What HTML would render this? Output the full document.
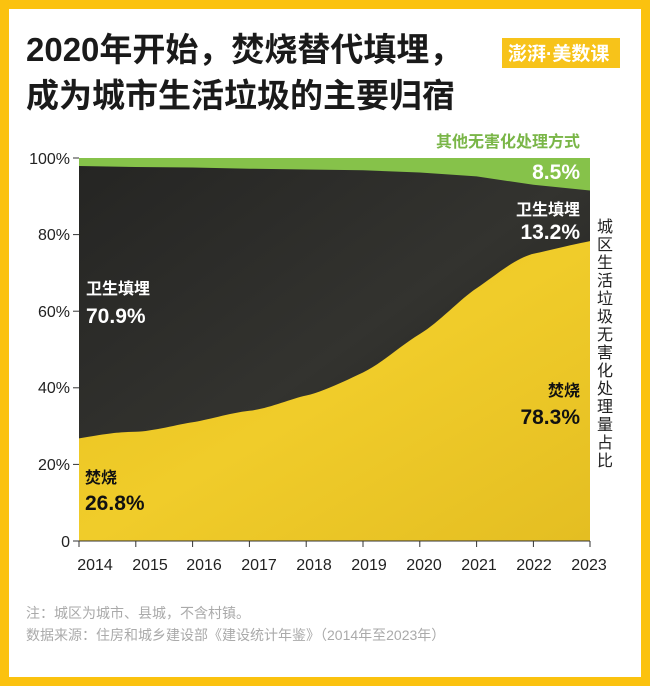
<!DOCTYPE html>
<html><head><meta charset="utf-8"><style>
body{margin:0;width:650px;height:686px;background:#fbc20f;font-family:"Liberation Sans","Noto Sans CJK SC",sans-serif;overflow:hidden}
.card{position:absolute;left:9px;top:9px;width:632px;height:668px;background:#fff}
</style></head><body>
<div class="card"></div>
<svg width="650" height="686" style="position:absolute;left:0;top:0" font-family="Liberation Sans, Noto Sans CJK SC, sans-serif">
<defs>
<linearGradient id="dk" x1="0" y1="0" x2="1" y2="1"><stop offset="0" stop-color="#252523"/><stop offset="0.5" stop-color="#33332f"/><stop offset="1" stop-color="#1a1a18"/></linearGradient>
<linearGradient id="yl" x1="0" y1="0" x2="1" y2="1"><stop offset="0" stop-color="#e8c11e"/><stop offset="0.5" stop-color="#f0cc2a"/><stop offset="1" stop-color="#e4be22"/></linearGradient>
</defs>
<text x="26" y="61" font-size="33" font-weight="bold" fill="#1a1a1a">2020年开始，焚烧替代填埋，</text>
<text x="26" y="107" font-size="33" font-weight="bold" fill="#1a1a1a">成为城市生活垃圾的主要归宿</text>
<rect x="502" y="38" width="118" height="30" fill="#f7c31a"/>
<text x="508" y="60" font-size="19" fill="#fff" font-weight="bold">澎湃·美数课</text>
<text x="580" y="147" font-size="16" font-weight="bold" fill="#7ab648" text-anchor="end">其他无害化处理方式</text>
<rect x="79" y="158" width="511" height="383" fill="#86c24a"/>
<path d="M79,166 L135.8,167 L192.6,167.5 L249.4,168.7 L306.2,169.5 L363,170.3 L419.8,172.5 L476.6,176.4 L533.4,184.8 L590,190.5 L590,541 L79,541 Z" fill="url(#dk)"/>
<path d="M79,438.4 C110,433 120,432 135.8,431.8 S180,424 192.6,422.3 S230,413 249.4,410.8 S290,399 306.2,395.5 S345,381 363,372.5 S400,346 419.8,334 S460,299 476.6,288.2 S515,258 533.4,253.8 S575,244 590,241.1 L590,541 L79,541 Z" fill="url(#yl)"/>
<g stroke="#333" stroke-width="1">
<line x1="73" y1="158" x2="79" y2="158"/><line x1="73" y1="234.6" x2="79" y2="234.6"/><line x1="73" y1="311.2" x2="79" y2="311.2"/><line x1="73" y1="387.8" x2="79" y2="387.8"/><line x1="73" y1="464.4" x2="79" y2="464.4"/><line x1="73" y1="541" x2="79" y2="541"/>
<line x1="79" y1="541" x2="590" y2="541"/>
<line x1="79" y1="541" x2="79" y2="547"/><line x1="135.8" y1="541" x2="135.8" y2="547"/><line x1="192.6" y1="541" x2="192.6" y2="547"/><line x1="249.4" y1="541" x2="249.4" y2="547"/><line x1="306.2" y1="541" x2="306.2" y2="547"/><line x1="363" y1="541" x2="363" y2="547"/><line x1="419.8" y1="541" x2="419.8" y2="547"/><line x1="476.6" y1="541" x2="476.6" y2="547"/><line x1="533.4" y1="541" x2="533.4" y2="547"/><line x1="590" y1="541" x2="590" y2="547"/>
</g>
<g font-size="16" fill="#222" text-anchor="end">
<text x="70" y="164">100%</text><text x="70" y="240">80%</text><text x="70" y="317">60%</text><text x="70" y="393">40%</text><text x="70" y="470">20%</text><text x="70" y="547">0</text>
</g>
<g font-size="16" fill="#222" text-anchor="middle">
<text x="95" y="570">2014</text><text x="150" y="570">2015</text><text x="204" y="570">2016</text><text x="259" y="570">2017</text><text x="314" y="570">2018</text><text x="369" y="570">2019</text><text x="424" y="570">2020</text><text x="479" y="570">2021</text><text x="534" y="570">2022</text><text x="589" y="570">2023</text>
</g>
<text x="580" y="179" font-size="21" font-weight="bold" fill="#fff" text-anchor="end">8.5%</text>
<text x="580" y="215" font-size="16" font-weight="bold" fill="#fff" text-anchor="end">卫生填埋</text>
<text x="580" y="239" font-size="21" font-weight="bold" fill="#fff" text-anchor="end">13.2%</text>
<text x="86" y="294" font-size="16" font-weight="bold" fill="#fff">卫生填埋</text>
<text x="86" y="323" font-size="21" font-weight="bold" fill="#fff">70.9%</text>
<text x="580" y="396" font-size="16" font-weight="bold" fill="#111" text-anchor="end">焚烧</text>
<text x="580" y="424" font-size="21" font-weight="bold" fill="#111" text-anchor="end">78.3%</text>
<text x="85" y="483" font-size="16" font-weight="bold" fill="#111">焚烧</text>
<text x="85" y="510" font-size="21" font-weight="bold" fill="#111">26.8%</text>
<text font-size="16" fill="#222" text-anchor="middle">
<tspan x="605" y="232">城</tspan><tspan x="605" y="250">区</tspan><tspan x="605" y="268">生</tspan><tspan x="605" y="286">活</tspan><tspan x="605" y="304">垃</tspan><tspan x="605" y="322">圾</tspan><tspan x="605" y="340">无</tspan><tspan x="605" y="358">害</tspan><tspan x="605" y="376">化</tspan><tspan x="605" y="394">处</tspan><tspan x="605" y="412">理</tspan><tspan x="605" y="430">量</tspan><tspan x="605" y="448">占</tspan><tspan x="605" y="466">比</tspan>
</text>
<text x="26" y="618" font-size="14" fill="#aaa">注：城区为城市、县城，不含村镇。</text>
<text x="26" y="640" font-size="14" fill="#aaa">数据来源：住房和城乡建设部《建设统计年鉴》（2014年至2023年）</text>
</svg>
</body></html>
